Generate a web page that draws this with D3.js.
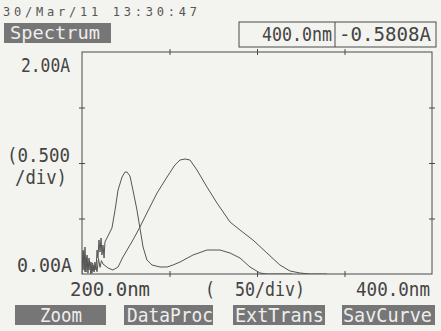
<!DOCTYPE html>
<html>
<head>
<meta charset="utf-8">
<script src="https://cdn.jsdelivr.net/npm/d3@7"></script>
<style>
  body { margin: 0; background: #f3f3ef; }
  svg { display: block; }
  text { font-family: "DejaVu Sans Mono", "Liberation Mono", monospace; fill: #444; }
</style>
</head>
<body>
<svg id="screen" width="441" height="331"></svg>
<script>
"use strict";

// spectrum data (nm, A)
const wavelengthA = [200.0, 200.6, 201.1, 201.7, 202.3, 202.9, 203.4, 204.0, 204.6, 205.1, 205.7, 206.3,
    206.9, 207.4, 208.0, 208.6, 209.1, 209.7, 210.3, 210.9, 211.4, 212.0, 212.6, 213.1,
    215.4, 217.1, 218.9, 220.6, 222.9, 224.6, 225.7, 227.4, 229.1, 231.4, 233.1, 234.9,
    237.1, 240.0, 244.6, 248.6, 252.0, 256.0, 263.4, 271.4, 278.9, 284.6, 290.3, 296.0,
    301.7, 305.7, 320.0];
const absorbA = [0.000, 0.216, 0.036, 0.243, 0.018, 0.171, 0.009, 0.144, 0.036, 0.108, 0.009, 0.081,
    0.018, 0.108, 0.036, 0.216, 0.144, 0.306, 0.198, 0.324, 0.171, 0.261, 0.144, 0.288,
    0.360, 0.414, 0.577, 0.757, 0.874, 0.919, 0.919, 0.883, 0.757, 0.577, 0.414, 0.243,
    0.126, 0.081, 0.063, 0.063, 0.081, 0.108, 0.171, 0.216, 0.216, 0.189, 0.144, 0.063,
    0.009, 0.000, 0.000];

const wavelengthB = [200.0, 200.9, 201.7, 202.6, 203.4, 204.3, 205.1, 206.0, 206.9, 207.7, 208.6, 209.4,
    210.3, 211.1, 212.0, 214.9, 217.7, 220.6, 223.4, 229.1, 233.1, 237.1, 242.9, 248.6,
    253.1, 256.0, 258.9, 261.7, 265.7, 271.4, 277.1, 284.6, 290.3, 297.7, 305.7, 313.1,
    318.9, 324.6, 330.3, 340.0];
const absorbB = [0.050, 0.200, 0.020, 0.150, 0.040, 0.120, 0.000, 0.100, 0.030, 0.080, 0.020, 0.140,
    0.060, 0.120, 0.090, 0.054, 0.036, 0.063, 0.153, 0.306, 0.423, 0.550, 0.730, 0.874,
    0.982, 1.027, 1.036, 1.027, 0.937, 0.784, 0.640, 0.468, 0.396, 0.306, 0.189, 0.081,
    0.027, 0.009, 0.000, 0.000];

const xTicks = [200, 250, 300, 350, 400];
const yTicks = [0, 0.5, 1.0, 1.5, 2.0];
const buttons = ["Zoom", "DataProc", "ExtTrans", "SavCurve"];
const stamp = "30/Mar/11 13:30:47";
const cursorNm = "400.0nm", cursorAbs = "-0.5808A";

const svg = d3.select("svg#screen");
const ink = "#4a4a4a", boxFill = "#767676", boxText = "#eeeeee";

const plotL = 82, plotR = 432, plotT = 52, plotB = 274;
const x = d3.scaleLinear().domain([200, 400]).range([plotL, plotR]);
const y = d3.scaleLinear().domain([0, 2]).range([plotB, plotT]);

// helper for stretched LCD text
function label(str, x0, base, size, len, adjust) {
    return svg.append("text")
        .attr("x", x0).attr("y", base)
        .attr("font-size", size)
        .attr("textLength", len)
        .attr("lengthAdjust", adjust || "spacingAndGlyphs")
        .text(str);
}

// header
label(stamp, 3, 16, 12, 194, "spacing").style("fill", "#555");
svg.append("rect").attr("x", 4).attr("y", 23).attr("width", 107).attr("height", 20).attr("fill", boxFill);
label("Spectrum", 10, 39, 18, 90).style("fill", boxText);

svg.append("rect").attr("x", 239).attr("y", 22).attr("width", 197).attr("height", 25)
    .attr("fill", "none").attr("stroke", ink);
svg.append("line").attr("x1", 335).attr("x2", 335).attr("y1", 22).attr("y2", 47).attr("stroke", ink);
label(cursorNm, 262, 41, 20, 70);
label(cursorAbs, 339, 41, 20, 92);

// frame with crossing ticks
const frame = svg.append("g").attr("stroke", ink).attr("fill", "none");
frame.append("rect").attr("x", plotL).attr("y", plotT).attr("width", plotR - plotL).attr("height", plotB - plotT);

function crossTicks(g) {
    g.select(".domain").remove();
    g.selectAll(".tick text").remove();
    g.selectAll(".tick line").attr("stroke", ink);
}
svg.append("g").attr("transform", `translate(0,${plotB})`)
    .call(d3.axisBottom(x).tickValues(xTicks.slice(1, -1)).tickSize(3)).call(crossTicks)
    .selectAll(".tick line").attr("y1", -3);
svg.append("g").attr("transform", `translate(0,${plotT})`)
    .call(d3.axisTop(x).tickValues(xTicks.slice(1, -1)).tickSize(3)).call(crossTicks)
    .selectAll(".tick line").attr("y1", 3);
svg.append("g").attr("transform", `translate(${plotL},0)`)
    .call(d3.axisLeft(y).tickValues(yTicks.slice(1, -1)).tickSize(3)).call(crossTicks)
    .selectAll(".tick line").attr("x1", 3);
svg.append("g").attr("transform", `translate(${plotR},0)`)
    .call(d3.axisRight(y).tickValues(yTicks.slice(1, -1)).tickSize(3)).call(crossTicks)
    .selectAll(".tick line").attr("x1", -3);

// axis labels
label("2.00A", 21, 72, 20, 49);
label("(0.500", 7, 162, 20, 63);
label("/div)", 15, 184, 20, 52);
label("0.00A", 17, 272, 20, 55);
label("200.0nm", 70, 296, 20, 80);
label("(", 205, 296, 20, 10);
label("50/div)", 235, 296, 20, 70);
label("400.0nm", 356, 296, 20, 74);

// curves
svg.append("clipPath").attr("id", "plot")
    .append("rect").attr("x", plotL).attr("y", plotT).attr("width", plotR - plotL).attr("height", plotB - plotT);

const line = d3.line().x(d => x(d[0])).y(d => y(d[1]));
const plot = svg.append("g").attr("clip-path", "url(#plot)");
[[wavelengthA, absorbA], [wavelengthB, absorbB]].forEach(([wl, ab]) => {
    plot.append("path")
        .datum(d3.zip(wl, ab))
        .attr("d", line)
        .attr("fill", "none")
        .attr("stroke", "#555")
        .attr("stroke-width", 1);
});

// soft keys
const keyX = [15, 124, 233, 342], keyW = [91, 89, 92, 93];
const keyTextX = [40, 127, 235, 343], keyTextW = [42, 86, 89, 89];
buttons.forEach((b, i) => {
    svg.append("rect").attr("x", keyX[i]).attr("y", 305).attr("width", keyW[i]).attr("height", 20).attr("fill", boxFill);
    label(b, keyTextX[i], 322, 19, keyTextW[i]).style("fill", boxText);
});
</script>
</body>
</html>
